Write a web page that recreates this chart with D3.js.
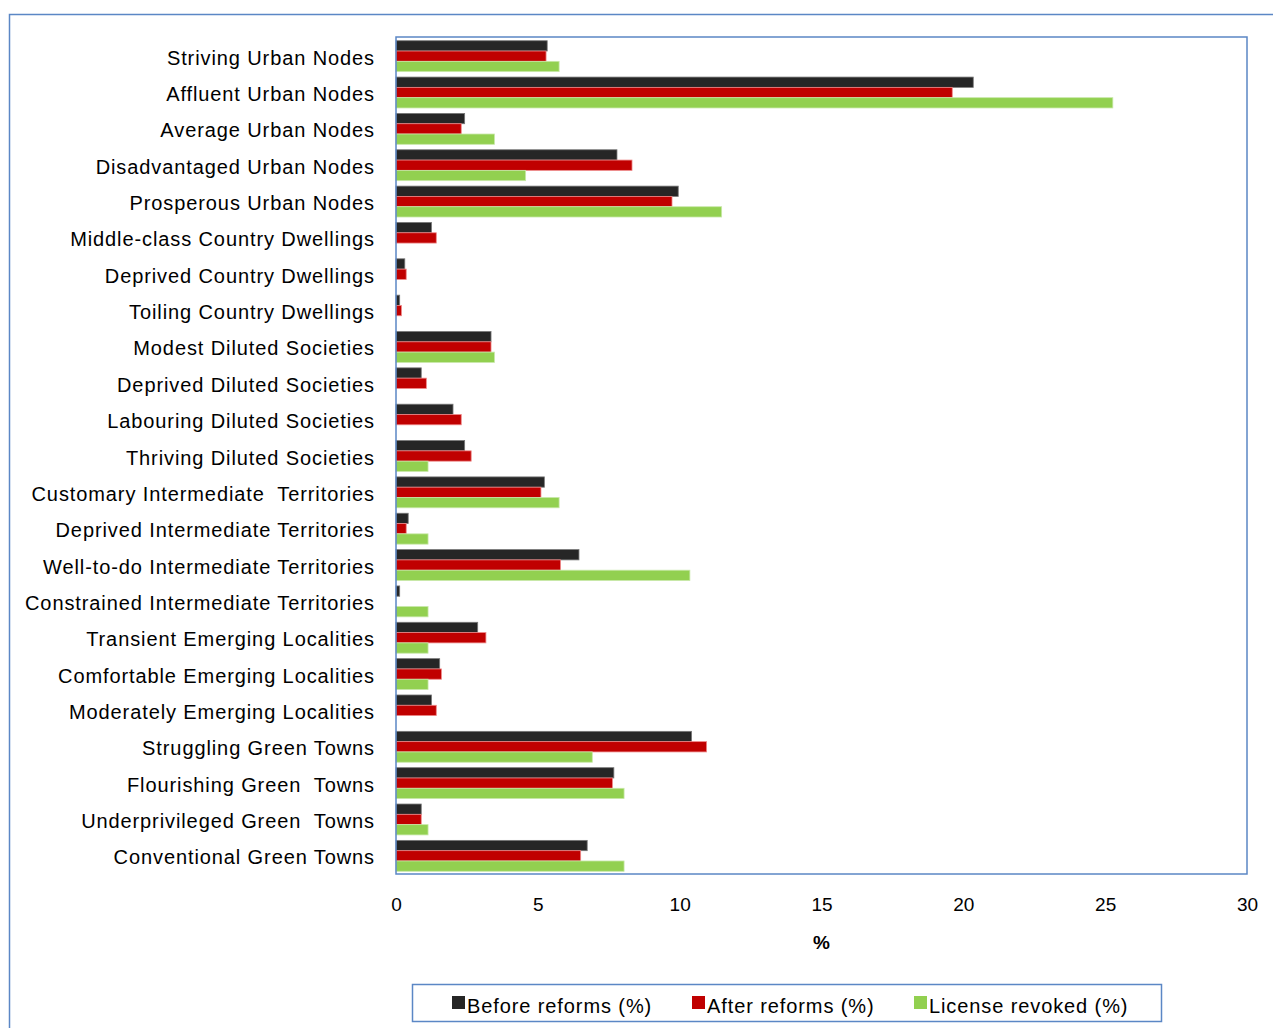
<!DOCTYPE html>
<html><head><meta charset="utf-8">
<script src="https://cdn.jsdelivr.net/npm/d3@7"></script>
<style>body{margin:0;background:#fff}svg{display:block}text{font-family:"Liberation Sans",Arial,sans-serif}</style>
</head><body><svg id="c" width="1273" height="1028"></svg>
<script>
const categories = ["Striving Urban Nodes","Affluent Urban Nodes","Average Urban Nodes","Disadvantaged Urban Nodes","Prosperous Urban Nodes","Middle-class Country Dwellings","Deprived Country Dwellings","Toiling Country Dwellings","Modest Diluted Societies","Deprived Diluted Societies","Labouring Diluted Societies","Thriving Diluted Societies","Customary Intermediate  Territories","Deprived Intermediate Territories","Well-to-do Intermediate Territories","Constrained Intermediate Territories","Transient Emerging Localities","Comfortable Emerging Localities","Moderately Emerging Localities","Struggling Green Towns","Flourishing Green  Towns","Underprivileged Green  Towns","Conventional Green Towns"];
const before  = [5.33,20.35,2.42,7.79,9.95,1.25,0.31,0.13,3.35,0.89,2.01,2.42,5.23,0.43,6.45,0.13,2.88,1.54,1.25,10.42,7.68,0.89,6.74];
const after   = [5.29,19.61,2.30,8.32,9.73,1.42,0.36,0.19,3.35,1.07,2.30,2.65,5.11,0.36,5.80,0,3.17,1.60,1.42,10.95,7.63,0.89,6.51];
const revoked = [5.75,25.27,3.47,4.57,11.48,0,0,0,3.47,0,0,1.13,5.75,1.13,10.36,1.13,1.13,1.13,0,6.92,8.04,1.13,8.04];
const seriesNames = ["Before reforms (%)","After reforms (%)","License revoked (%)"];
const colors = ["#262626","#c00000","#92d050"];
const xTicks = [0,5,10,15,20,25,30];

const svg = d3.select("#c");
const L=396, R=1247, T=38, B=874;
const frameColor="#5b87c5";
svg.append("path").attr("d","M9.5,1028 V14.5 H1273").attr("fill","none").attr("stroke",frameColor).attr("stroke-width",1.5);

const x = d3.scaleLinear().domain([0,30]).range([L,R]);
const y = d3.scaleBand().domain(categories).range([T,B]).paddingInner(0.15).paddingOuter(0.075);
const ys = d3.scaleBand().domain([0,1,2]).range([0,y.bandwidth()]);
const series=[before,after,revoked];

const g = svg.append("g");
series.forEach((vals,si)=>{
  g.selectAll(null).data(categories).enter().append("rect")
   .attr("x",x(0)).attr("y",(d)=>y(d)+ys(si))
   .attr("width",(d,i)=>Math.max(0,x(vals[i])-x(0)))
   .attr("height",ys.bandwidth())
   .attr("fill",colors[si])
   .attr("stroke",si==0?"#777":(si==1?"#e88":"#c8e8a8")).attr("stroke-width",(d,i)=>vals[i]>0?0.8:0);
});

svg.append("rect").attr("x",L).attr("y",T-1).attr("width",R-L).attr("height",B-T+1)
  .attr("fill","none").attr("stroke",frameColor).attr("stroke-width",1.5);

svg.append("g").selectAll("text").data(categories).enter().append("text")
  .attr("x",375).attr("y",d=>y(d)+y.bandwidth()/2+1.5).attr("dy","0.35em")
  .attr("text-anchor","end").attr("font-size",20).attr("fill","#000")
  .attr("letter-spacing","0.9px")
  .style("white-space","pre").text(d=>d);

const ax = svg.append("g").attr("transform",`translate(0,${B})`)
  .call(d3.axisBottom(x).tickValues(xTicks).tickSize(0).tickPadding(24).tickFormat(d3.format("d")));
ax.select(".domain").remove();
ax.selectAll("text").attr("font-size",19).attr("fill","#000").style("font-family","'Liberation Sans',Arial,sans-serif");

svg.append("text").attr("x",(L+R)/2).attr("y",949).attr("text-anchor","middle")
  .attr("font-size",19).attr("font-weight","bold").text("%");

svg.append("rect").attr("x",412.5).attr("y",984.5).attr("width",749).attr("height",37)
  .attr("fill","none").attr("stroke",frameColor).attr("stroke-width",1.5);
const legX=[452,692,914];
seriesNames.forEach((n,i)=>{
  svg.append("rect").attr("x",legX[i]).attr("y",996).attr("width",13).attr("height",13).attr("fill",colors[i]);
  svg.append("text").attr("x",legX[i]+15).attr("y",1013).attr("font-size",20).attr("letter-spacing","0.9px").text(n);
});
</script></body></html>
